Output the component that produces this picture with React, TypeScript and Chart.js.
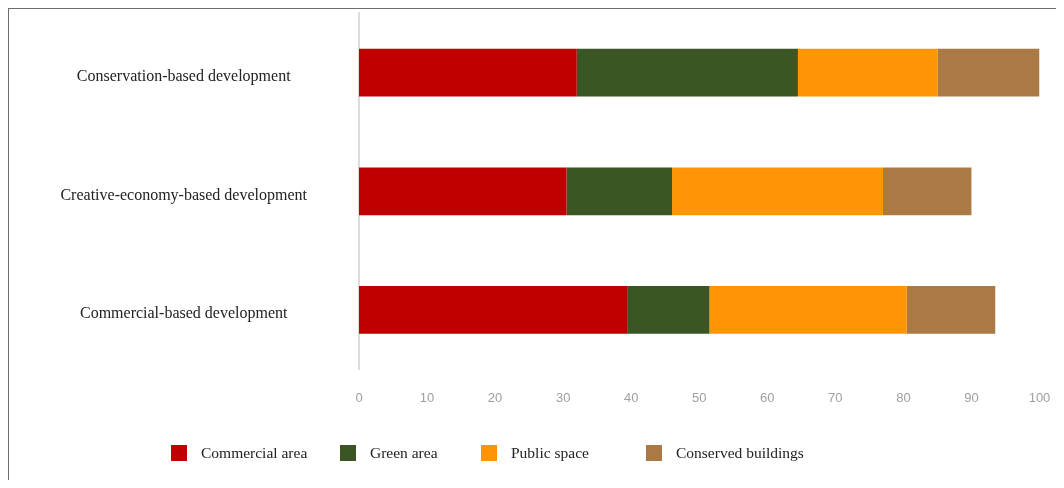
import React, { useEffect, useRef } from "react";
import { Chart, registerables } from "chart.js";

Chart.register(...registerables);

// ---- data ----
const categories = [
  "Conservation-based development",
  "Creative-economy-based development",
  "Commercial-based development",
];
const seriesNames = ["Commercial area", "Green area", "Public space", "Conserved buildings"];
const commercialArea = [32, 30.5, 39.5];
const greenArea = [32.5, 15.5, 12];
const publicSpace = [20.5, 31, 29];
const conservedBuildings = [15, 13, 13];
const xMin = 0;
const xMax = 100;
const xStep = 10;

// ---- styles ----
const seriesColors = ["#c00000", "#3b5524", "#fd9505", "#ab7a44"];
const legendLefts = [163, 332, 473, 638];
const frameColor = "#6e6e6e";

export default function App() {
  const canvasRef = useRef<HTMLCanvasElement>(null);

  useEffect(() => {
    const values = [commercialArea, greenArea, publicSpace, conservedBuildings];
    const chart = new Chart(canvasRef.current!, {
      type: "bar",
      data: {
        labels: categories,
        datasets: seriesNames.map((name, i) => ({
          label: name,
          data: values[i],
          backgroundColor: seriesColors[i],
          borderWidth: 0,
          categoryPercentage: 1,
          barPercentage: 0.402,
        })),
      },
      options: {
        indexAxis: "y",
        animation: false,
        responsive: true,
        maintainAspectRatio: false,
        layout: { padding: { left: 0, right: 16.5, top: 5.3, bottom: 70.7 } },
        plugins: {
          legend: { display: false },
          tooltip: { enabled: false },
        },
        scales: {
          x: {
            stacked: true,
            min: xMin,
            max: xMax,
            afterFit: (scale: any) => {
              scale.height = 40;
              scale.paddingLeft = 0;
              scale.paddingRight = 0;
            },
            ticks: {
              stepSize: xStep,
              color: "#a0a0a0",
              padding: 21,
              font: { family: "'Liberation Sans Narrow', 'Liberation Sans', sans-serif", size: 13 },
            },
            grid: { display: false, drawTicks: false },
            border: { display: false },
          },
          y: {
            stacked: true,
            afterFit: (scale: any) => {
              scale.width = 351;
              scale.paddingTop = 0;
              scale.paddingBottom = 0;
            },
            ticks: {
              crossAlign: "center",
              padding: 52,
              labelOffset: 4,
              color: "#222222",
              font: { family: "'Liberation Serif', 'Times New Roman', serif", size: 16 },
            },
            grid: { display: false, drawTicks: false },
            border: { display: true, color: "#dcdcdc", width: 2 },
          },
        },
      } as any,
    });
    return () => chart.destroy();
  }, []);

  return (
    <div style={{ position: "relative", width: 1048, height: 472 }}>
      <div style={{ position: "absolute", left: 0, top: 0, width: 1048, height: 472 }}>
        <canvas ref={canvasRef} style={{ display: "block" }} />
      </div>
      <div style={{ position: "absolute", left: -1, top: -1, width: 1054, height: 2, background: frameColor }} />
      <div style={{ position: "absolute", left: -1, top: -1, width: 2, height: 478, background: frameColor }} />
      {seriesNames.map((name, i) => (
        <div
          key={name}
          style={{
            position: "absolute",
            left: legendLefts[i],
            top: 437,
            height: 16,
            display: "flex",
            alignItems: "center",
            whiteSpace: "nowrap",
            fontFamily: "'Liberation Serif', 'Times New Roman', serif",
            fontSize: 15.5,
            color: "#222222",
          }}
        >
          <span
            style={{
              display: "inline-block",
              width: 16,
              height: 16,
              background: seriesColors[i],
              marginRight: 14,
            }}
          />
          <span>{name}</span>
        </div>
      ))}
    </div>
  );
}
